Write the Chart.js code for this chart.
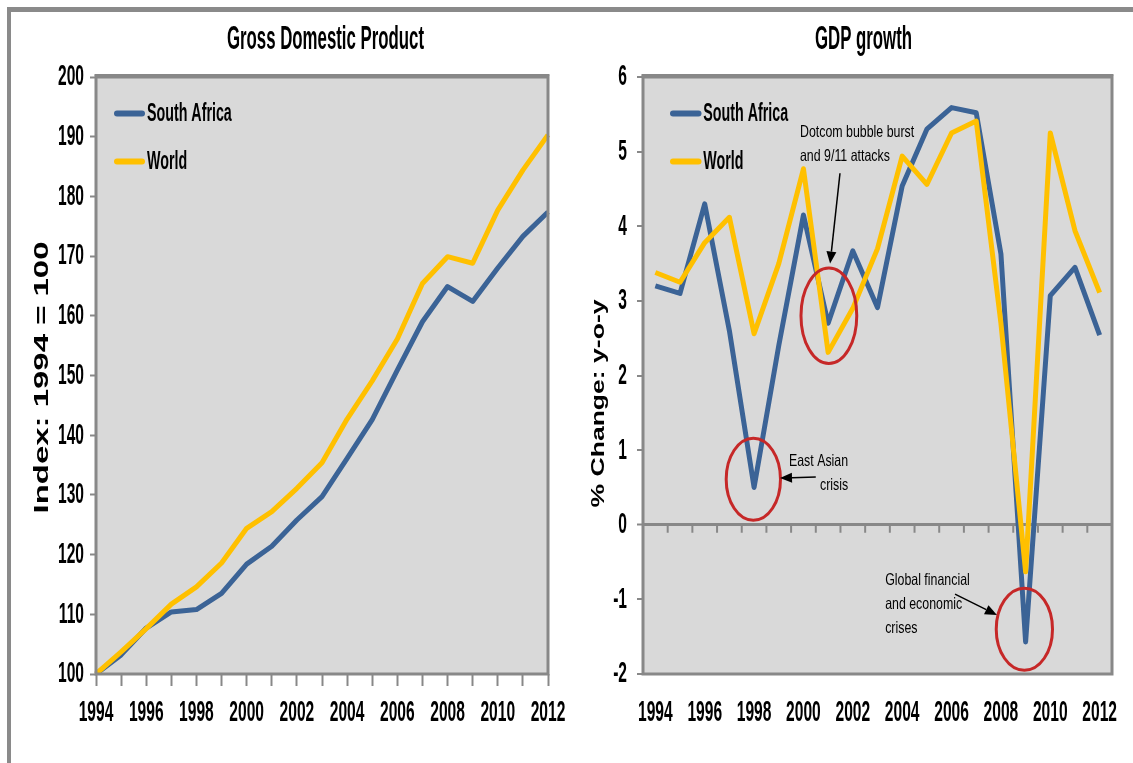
<!DOCTYPE html>
<html><head><meta charset="utf-8">
<script src="https://cdn.jsdelivr.net/npm/chart.js@4.4.1/dist/chart.umd.min.js"></script>
<style>
html,body{margin:0;padding:0;background:#fff;overflow:hidden;width:1133px;height:763px;}
#frame{position:absolute;left:7px;top:7px;width:1300px;height:900px;border-left:4px solid #8a8a8a;border-top:5px solid #8a8a8a;}
#c1{position:absolute;left:0;top:0;}
#c2{position:absolute;left:570px;top:0;}
</style></head><body>
<div id="frame"></div>
<canvas id="c1" width="570" height="763"></canvas>
<canvas id="c2" width="563" height="763"></canvas>
<script>
// ---------- data ----------
const years = ['1994','1995','1996','1997','1998','1999','2000','2001','2002','2003','2004','2005','2006','2007','2008','2009','2010','2011','2012'];
const tickYears = ['1994','1996','1998','2000','2002','2004','2006','2008','2010','2012'];
const seriesNames = ['South Africa','World'];
const gdpIndexSouthAfrica = [100,103.2,107.7,110.4,110.8,113.5,118.4,121.4,125.8,129.7,136.1,142.6,150.9,159.0,164.9,162.4,168.0,173.3,177.4];
const gdpIndexWorld      = [100,103.7,107.6,111.7,114.6,118.6,124.4,127.2,131.1,135.4,142.7,149.1,156.1,165.4,169.9,168.8,177.7,184.4,190.3];
const growthSouthAfrica = [3.2,3.1,4.3,2.6,0.5,2.4,4.15,2.7,3.67,2.91,4.54,5.3,5.59,5.52,3.63,-1.57,3.07,3.45,2.54];
const growthWorld       = [3.38,3.25,3.78,4.12,2.56,3.5,4.77,2.31,2.9,3.7,4.94,4.56,5.25,5.41,2.7,-0.63,5.25,3.94,3.11];
const indexTickRange = [100,200,10];
const growthTickRange = [-2,6,1];
const chartTitles = ['Gross Domestic Product','GDP growth'];
const axisTitles = ['Index: 1994 = 100','% Change: y-o-y'];
// annotation anchors in data coordinates (year, % value)
const noteEllipses = [[1997.97,0.61,1.1,0.55],[2001.03,2.80,1.13,0.64],[2008.95,-1.40,1.14,0.55]];
const noteArrows = [[2001.48,4.71,2001.08,3.50],[2000.50,0.64,1999.05,0.626],[2006.14,-0.93,2007.84,-1.21]];
const noteTexts = [
  {lines:['Dotcom bubble burst','and 9/11 attacks'], year:1999.86, value:5.26, align:'left'},
  {lines:['East Asian','crisis'], year:2001.81, value:0.843, align:'right'},
  {lines:['Global financial','and economic','crises'], year:2003.31, value:-0.742, align:'left'}
];

// ---------- styles ----------
const BLUE = '#3b6396', YELLOW = '#ffc000', GRAY = '#888888', BG = '#d9d9d9', RED = '#c62828';
const FAMILY = '"Liberation Sans", Arial, sans-serif';

// text in the reference is tall and narrow: stretch every glyph around its anchor
function stretchText(ctx) {
  const orig = ctx.fillText;
  ctx._sx = 0.82; ctx._sy = 1.6;
  ctx.fillText = function(text, x, y, maxWidth) {
    this.save();
    this.translate(x, y);
    this.scale(this._sx, this._sy);
    if (maxWidth === undefined) orig.call(this, text, 0, 0);
    else orig.call(this, text, 0, 0, maxWidth / this._sx);
    this.restore();
  };
  return ctx;
}

const plotFrame = {
  id: 'plotFrame',
  beforeDraw(chart) {
    const {ctx, chartArea: a} = chart;
    ctx.save(); ctx.fillStyle = BG;
    ctx.fillRect(a.left, a.top, a.right - a.left, a.bottom - a.top);
    ctx.restore();
  },
  afterDatasetsDraw(chart) {
    const {ctx, chartArea: a} = chart;
    ctx.save();
    ctx.strokeStyle = GRAY; ctx.lineWidth = 3;
    ctx.strokeRect(a.left, a.top, a.right - a.left, a.bottom - a.top);
    ctx.fillStyle = GRAY;
    ctx.fillRect(a.left - 1.5, a.top - 3, a.right - a.left + 3, 2);
    ctx.restore();
  }
};

const texts = {
  id: 'texts',
  afterDraw(chart, args, o) {
    const {ctx, chartArea: a} = chart;
    ctx.save();
    ctx.fillStyle = '#000'; ctx.textAlign = 'center'; ctx.textBaseline = 'middle';
    ctx.font = 'bold 20.5px ' + FAMILY;
    ctx._sx = 0.82; ctx._sy = 1.6;
    ctx.fillText(o.title, o.titleX, o.titleY);
    ctx.font = 'bold ' + o.yFont + 'px ' + FAMILY;
    ctx.translate(o.yX, o.yY); ctx.rotate(-Math.PI / 2);
    ctx._sx = o.yStretch; ctx._sy = 1;
    ctx.fillText(o.yTitle, 0, 0);
    ctx.restore();
    chart.data.datasets.forEach((ds, i) => {
      const y = a.top + o.legY + i * o.legStep;
      ctx.save();
      ctx.strokeStyle = ds.borderColor; ctx.lineWidth = 6; ctx.lineCap = 'round';
      ctx.beginPath(); ctx.moveTo(a.left + o.legX0 + 3, y); ctx.lineTo(a.left + o.legX1 - 3, y); ctx.stroke();
      ctx.fillStyle = '#000'; ctx.textAlign = 'left'; ctx.textBaseline = 'middle';
      ctx.font = 'bold 17.4px ' + FAMILY;
      ctx._sx = 0.82; ctx._sy = 1.5;
      ctx.fillText(ds.label, a.left + o.legText, y);
      ctx.restore();
    });
    ctx._sx = 0.82; ctx._sy = 1.6;
  }
};

const zeroTicks = {
  id: 'zeroTicks',
  beforeDatasetsDraw(chart) {
    const {ctx, scales: {x, y}} = chart;
    const y0 = y.getPixelForValue(0);
    ctx.save(); ctx.strokeStyle = GRAY; ctx.lineWidth = 2;
    for (let i = 1; i < years.length; i++) {
      const px = (x.getPixelForValue(i - 1) + x.getPixelForValue(i)) / 2;
      ctx.beginPath(); ctx.moveTo(px, y0 + 1); ctx.lineTo(px, y0 + 8); ctx.stroke();
    }
    ctx.restore();
  }
};

const notes = {
  id: 'notes',
  afterDatasetsDraw(chart) {
    const {ctx, scales: {x, y}} = chart;
    const X = yr => x.getPixelForValue(yr - 1994);
    const Y = v => y.getPixelForValue(v);
    ctx.save();
    ctx.strokeStyle = RED; ctx.lineWidth = 3;
    noteEllipses.forEach(([cx, cy, rx, ry]) => {
      const px = X(cx), py = Y(cy);
      ctx.beginPath();
      ctx.ellipse(px, py, Math.abs(X(cx + rx) - px), Math.abs(Y(cy + ry) - py), 0, 0, Math.PI * 2);
      ctx.stroke();
    });
    ctx.strokeStyle = '#000'; ctx.fillStyle = '#000'; ctx.lineWidth = 1.5;
    noteArrows.forEach(([x1, y1, x2, y2]) => {
      const ax = X(x1), ay = Y(y1), bx = X(x2), by = Y(y2);
      const ang = Math.atan2(by - ay, bx - ax), L = 12, W = 5;
      const hx = bx - L * Math.cos(ang), hy = by - L * Math.sin(ang);
      ctx.beginPath(); ctx.moveTo(ax, ay); ctx.lineTo(hx, hy); ctx.stroke();
      ctx.beginPath();
      ctx.moveTo(bx, by);
      ctx.lineTo(hx + W * Math.sin(ang), hy - W * Math.cos(ang));
      ctx.lineTo(hx - W * Math.sin(ang), hy + W * Math.cos(ang));
      ctx.closePath(); ctx.fill();
    });
    ctx.font = '16.5px ' + FAMILY; ctx.textBaseline = 'middle';
    ctx._sx = 0.75; ctx._sy = 1.0;
    noteTexts.forEach(t => {
      ctx.textAlign = t.align;
      t.lines.forEach((line, i) => ctx.fillText(line, X(t.year), Y(t.value) + i * 24));
    });
    ctx._sx = 0.82; ctx._sy = 1.6;
    ctx.restore();
  }
};

function evenYear(v) { const l = this.getLabelForValue(v); return tickYears.includes(l) ? l : ''; }

function baseOptions() {
  return {
    responsive: false, devicePixelRatio: 1, animation: false, events: [],
    plugins: {legend: {display: false}, tooltip: {enabled: false}, title: {display: false}},
    elements: {point: {radius: 0}, line: {tension: 0, borderWidth: 5, borderJoinStyle: 'round'}}
  };
}

// ---------- left: GDP index ----------
const opt1 = baseOptions();
opt1.layout = {padding: {top: 77, right: 22, left: 0, bottom: 0}};
opt1.scales = {
  x: {type: 'category', offset: false,
      grid: {drawOnChartArea: false, drawTicks: true, tickLength: 12, tickColor: GRAY, tickWidth: 2},
      border: {display: false},
      ticks: {autoSkip: false, maxRotation: 0, minRotation: 0, padding: 0,
              font: {family: FAMILY, size: 19, weight: 'bold', lineHeight: 2.842}, color: '#000', callback: evenYear},
      afterFit(s) { s.height = 89; }},
  y: {min: indexTickRange[0], max: indexTickRange[1],
      grid: {drawOnChartArea: false, tickLength: 6, tickColor: GRAY, tickWidth: 2},
      border: {display: false},
      ticks: {stepSize: indexTickRange[2], padding: 6, font: {family: FAMILY, size: 19, weight: 'bold'}, color: '#000'},
      afterFit(s) { s.width = 96; }}
};
opt1.plugins.texts = {title: chartTitles[0], titleX: 325.5, titleY: 40, yTitle: axisTitles[0], yX: 43, yY: 377.5, yFont: 19.5, yStretch: 1.69,
  legY: 36.5, legStep: 48, legX0: 18, legX1: 49, legText: 51};

new Chart(stretchText(document.getElementById('c1').getContext('2d')), {
  type: 'line',
  data: {labels: years, datasets: [
    {label: seriesNames[0], data: gdpIndexSouthAfrica, borderColor: BLUE, order: 1},
    {label: seriesNames[1], data: gdpIndexWorld, borderColor: YELLOW, order: 0}
  ]},
  options: opt1,
  plugins: [plotFrame, texts]
});

// ---------- right: GDP growth ----------
const opt2 = baseOptions();
opt2.layout = {padding: {top: 77, right: 21, left: 0, bottom: 0}};
opt2.scales = {
  x: {type: 'category', offset: true,
      grid: {display: false, drawTicks: false},
      border: {display: false},
      ticks: {autoSkip: false, maxRotation: 0, minRotation: 0, padding: 0,
              font: {family: FAMILY, size: 19, weight: 'bold', lineHeight: 4.105}, color: '#000', callback: evenYear},
      afterFit(s) { s.height = 89; }},
  y: {min: growthTickRange[0], max: growthTickRange[1],
      grid: {drawOnChartArea: true,
             color: c => (c.tick && c.tick.value === 0) ? GRAY : 'rgba(0,0,0,0)',
             lineWidth: c => (c.tick && c.tick.value === 0) ? 3 : 0,
             tickLength: 6, tickColor: GRAY, tickWidth: 2},
      border: {display: false},
      ticks: {stepSize: growthTickRange[2], padding: 10, font: {family: FAMILY, size: 19, weight: 'bold'}, color: '#000'},
      afterFit(s) { s.width = 73; }}
};
opt2.plugins.texts = {title: chartTitles[1], titleX: 293.5, titleY: 40, yTitle: axisTitles[1], yX: 29.5, yY: 403.5, yFont: 18, yStretch: 1.475,
  legY: 36.5, legStep: 48, legX0: 27, legX1: 58.5, legText: 60.3};

new Chart(stretchText(document.getElementById('c2').getContext('2d')), {
  type: 'line',
  data: {labels: years, datasets: [
    {label: seriesNames[0], data: growthSouthAfrica, borderColor: BLUE, order: 1},
    {label: seriesNames[1], data: growthWorld, borderColor: YELLOW, order: 0}
  ]},
  options: opt2,
  plugins: [plotFrame, zeroTicks, notes, texts]
});
</script>
</body></html>
